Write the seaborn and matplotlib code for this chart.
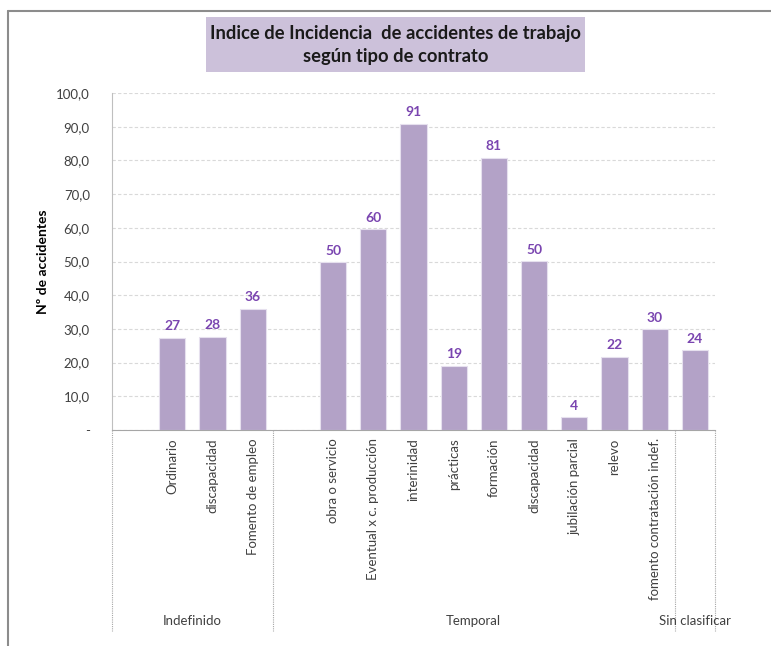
import numpy as np
import pandas as pd
import matplotlib
matplotlib.use("Agg")
import matplotlib.pyplot as plt
import seaborn as sns
from matplotlib.patches import Rectangle
from matplotlib.lines import Line2D
from matplotlib.ticker import FuncFormatter

# ---------------- data ----------------
groups = ["Indefinido"] * 4 + ["Temporal"] * 10 + ["Sin clasificar"]
labels = ["", "Ordinario", "discapacidad", "Fomento de empleo",
          "", "obra o servicio", "Eventual x c. producción", "interinidad",
          "prácticas", "formación", "discapacidad", "jubilación parcial",
          "relevo", "fomento contratación indef.",
          ""]
values = [np.nan, 27.3, 27.7, 35.9,
          np.nan, 49.8, 59.6, 90.8, 19.0, 80.7, 50.1, 3.8, 21.7, 29.9,
          23.7]

title = "Indice de Incidencia  de accidentes de trabajo\nsegún tipo de contrato"
ylabel = "Nº de accidentes"

# ---------------- style ----------------
sns.set_style("white")
plt.rcParams["font.family"] = ["Lato", "DejaVu Sans"]

bar_color = "#B3A2C7"
label_color = "#7A45B0"
text_color = "#404040"
grid_color = "#D9D9D9"

slots = [f"{i}_{g}_{l}" for i, (g, l) in enumerate(zip(groups, labels))]
df = pd.DataFrame({"slot": slots, "group": groups, "label": labels, "value": values})
df_bars = df.dropna(subset=["value"])

fig = plt.figure(figsize=(7.71, 6.46), dpi=100)
ax = fig.add_axes([112 / 771, 1 - 430 / 646, (715 - 112) / 771, (430 - 93) / 646])

sns.barplot(data=df_bars, x="slot", y="value", order=slots, color=bar_color,
            saturation=1, width=0.65, edgecolor="#E6E0EE", linewidth=0.8, ax=ax)

# data labels
ax.bar_label(ax.containers[0], fmt="{:.0f}", padding=4, color=label_color,
             fontsize=10, fontweight="bold")

# y axis
ax.set_ylim(0, 100)
ax.set_xlim(-0.5, len(slots) - 0.5)
ax.set_yticks(np.arange(0, 101, 10))
ax.yaxis.set_major_formatter(FuncFormatter(lambda v, p: "-" if v == 0 else f"{v:.1f}".replace(".", ",")))
ax.tick_params(axis="y", labelsize=9.5, labelcolor=text_color, length=5, color="#BFBFBF", pad=11)
ax.set_ylabel(ylabel, fontsize=10, fontweight="bold", color="black", labelpad=5)
ax.yaxis.grid(True, color=grid_color, linestyle=(0, (3, 2)), linewidth=0.8)
ax.set_axisbelow(True)

# x axis
ax.set_xlabel("")
ax.set_xticks(range(len(slots)))
ax.set_xticklabels(labels, rotation=90, fontsize=9.5, color=text_color, va="top")
ax.tick_params(axis="x", length=0, pad=6)

for side in ["top", "right"]:
    ax.spines[side].set_visible(False)
ax.spines["left"].set_color("#BFBFBF")
ax.spines["bottom"].set_color("#A6A6A6")
ax.spines["bottom"].set_linestyle((0, (1, 1)))

# group separators and group names
trans = ax.get_xaxis_transform()
bounds = [-0.5]
for i in range(1, len(groups)):
    if groups[i] != groups[i - 1]:
        bounds.append(i - 0.5)
bounds.append(len(groups) - 0.5)
for b in bounds:
    ax.plot([b, b], [0, -0.595], transform=trans, color="#A6A6A6",
            linestyle=(0, (1, 1)), linewidth=0.8, clip_on=False)

group_names = list(dict.fromkeys(groups))
for name, left, right in zip(group_names, bounds[:-1], bounds[1:]):
    ax.text((left + right) / 2, -0.567, name, transform=trans, ha="center", va="center",
            fontsize=9.5, color=text_color)

# title box
fig.patches.append(Rectangle((206 / 771, 1 - 72 / 646), 379 / 771, 55 / 646,
                             transform=fig.transFigure, facecolor="#CCC1DA",
                             edgecolor="none", zorder=0))
fig.text(395.5 / 771, 1 - 45 / 646, title, ha="center", va="center", fontsize=13.2,
         fontweight="bold", color="#1a1a1a", linespacing=1.42)

# outer frame (top and left edges visible)
fig.lines.append(Line2D([8 / 771, 1], [1 - 11 / 646, 1 - 11 / 646], transform=fig.transFigure,
                        color="#8C8C8C", linewidth=1.5))
fig.lines.append(Line2D([8 / 771, 8 / 771], [0, 1 - 11 / 646], transform=fig.transFigure,
                        color="#8C8C8C", linewidth=1.5))

fig.savefig("out.png", dpi=100)
